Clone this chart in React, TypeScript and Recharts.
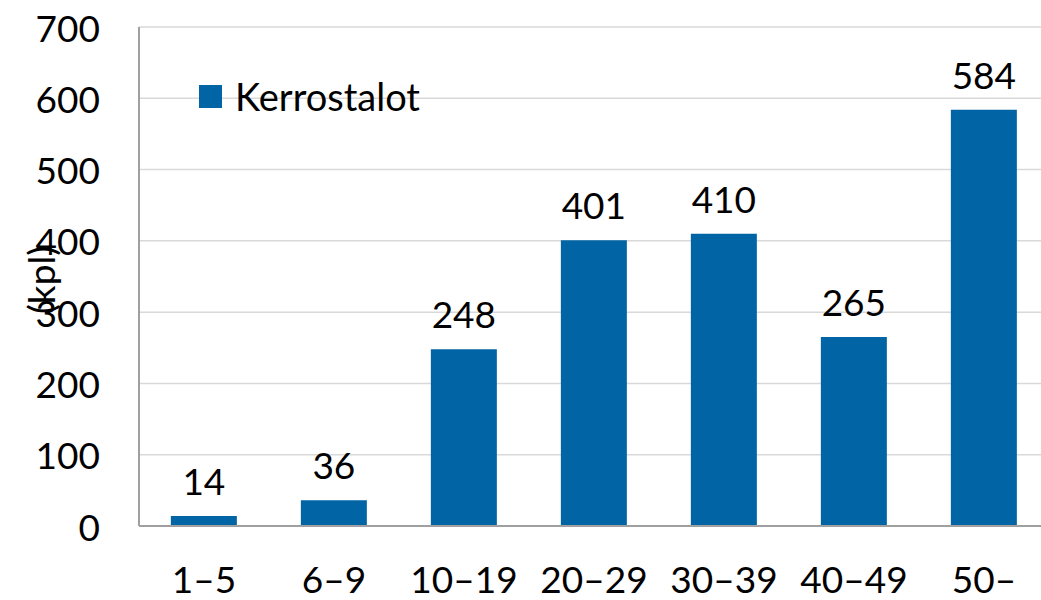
import React from "react";
import {
  BarChart,
  Bar,
  XAxis,
  YAxis,
  CartesianGrid,
  Legend,
  LabelList,
} from "recharts";

const categories = ["1–5", "6–9", "10–19", "20–29", "30–39", "40–49", "50–"];
const kerrostalot = [14, 36, 248, 401, 410, 265, 584];
const yTicks = [0, 100, 200, 300, 400, 500, 600, 700];

const data = categories.map((name, i) => ({ name, value: kerrostalot[i] }));

const FONT = "Lato, 'Open Sans', sans-serif";
const BLUE = "#0064a5";

function XTick({ x, y, payload }: any) {
  return (
    <text x={x} y={y + 44} textAnchor="middle" dominantBaseline="central" fontSize={37} fontFamily={FONT} fill="#000">
      {payload.value}
    </text>
  );
}

function YTick({ x, y, payload }: any) {
  return (
    <text x={x - 31} y={y} textAnchor="end" dominantBaseline="central" fontSize={37} fontFamily={FONT} fill="#000">
      {payload.value}
    </text>
  );
}

// zero-size box so the legend reserves no room in the chart layout
function LegendBox() {
  return (
    <div style={{ position: "relative", width: 0, height: 0, overflow: "visible" }}>
      <div
        style={{
          position: "absolute",
          left: 0,
          top: 0,
          display: "flex",
          alignItems: "center",
          whiteSpace: "nowrap",
          fontFamily: FONT,
          fontSize: 38,
          color: "#000",
          lineHeight: "44px",
        }}
      >
        <span style={{ display: "inline-block", width: 23, height: 23, background: BLUE, marginRight: 13 }} />
        <span>Kerrostalot</span>
      </div>
    </div>
  );
}

export default function App() {
  return (
    <div style={{ position: "absolute", left: 0, top: 0, width: 1041, height: 600, background: "#fff", overflow: "hidden" }}>
      <BarChart
        width={1041}
        height={600}
        data={data}
        margin={{ top: 27, right: -8, left: 0, bottom: 0 }}
        barCategoryGap="24.5%"
      >
        <CartesianGrid vertical={false} stroke="#d9d9d9" strokeWidth={1.5} />
        <XAxis
          dataKey="name"
          height={74}
          tickLine={false}
          axisLine={{ stroke: "#a0a0a0", strokeWidth: 2 }}
          tick={<XTick />}
          interval={0}
        />
        <YAxis
          width={139}
          domain={[0, 700]}
          ticks={yTicks}
          tickLine={false}
          axisLine={{ stroke: "#a0a0a0", strokeWidth: 2 }}
          tick={<YTick />}
          label={{
            content: () => (
              <text
                x={40}
                y={280}
                transform="rotate(-90 40 280)"
                textAnchor="middle"
                dominantBaseline="central"
                fontSize={37}
                fontFamily={FONT}
                fill="#000"
              >
                (kpl)
              </text>
            ),
          }}
        />
        <Legend
          verticalAlign="top"
          align="left"
          content={<LegendBox />}
          wrapperStyle={{ left: 199, top: 74, width: 0, height: 0 }}
        />
        <Bar dataKey="value" name="Kerrostalot" fill={BLUE} isAnimationActive={false}>
          <LabelList
            dataKey="value"
            position="top"
            offset={21}
            fontSize={37}
            fontFamily={FONT}
            fill="#000"
          />
        </Bar>
      </BarChart>
    </div>
  );
}
